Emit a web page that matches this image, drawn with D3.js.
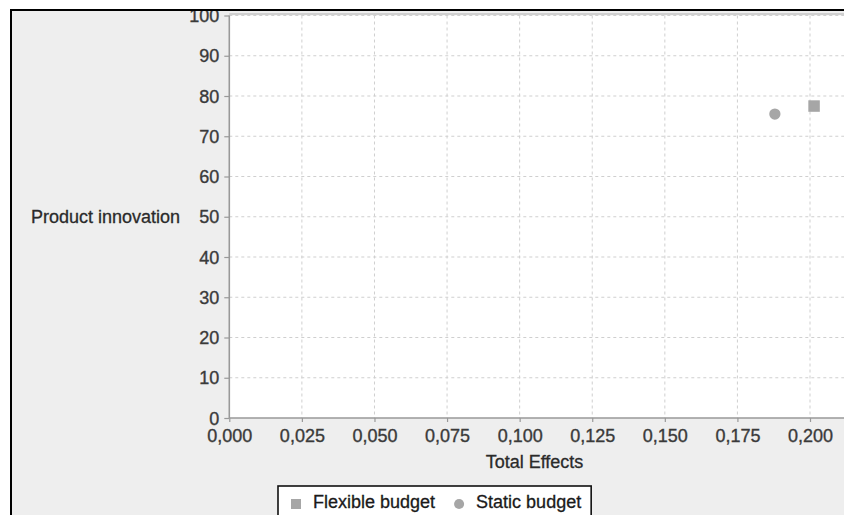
<!DOCTYPE html>
<html>
<head>
<meta charset="utf-8">
<script src="https://cdn.jsdelivr.net/npm/d3@7"></script>
<style>
  body { margin: 0; background: #fff; }
  text { font-family: "Liberation Sans", Arial, sans-serif; }
</style>
</head>
<body>
<script>
var seriesNames = ["Flexible budget", "Static budget"];
var seriesShapes = ["square", "circle"];
var xValues = [0.2014, 0.1879];
var yValues = [77.5, 75.5];
var xTicks = [0, 0.025, 0.05, 0.075, 0.1, 0.125, 0.15, 0.175, 0.2];
var yTicks = [0, 10, 20, 30, 40, 50, 60, 70, 80, 90, 100];
var xLabel = "Total Effects";
var yLabel = "Product innovation";

var W = 844, H = 515;
var plotLeft = 229.3, plotTop = 15.5, plotBottom = 418;
var plotW = 617, plotH = plotBottom - plotTop;

var svg = d3.select("body").append("svg")
    .attr("width", W)
    .attr("height", H);

// background panel
svg.append("rect").attr("x", 11).attr("y", 10).attr("width", W).attr("height", H)
    .attr("fill", "#eeeeee");

var xScale = d3.scaleLinear().domain([0, 0.2125]).range([0, plotW]);
var yScale = d3.scaleLinear().domain([0, 100]).range([plotH, 0]);

var loc = d3.formatLocale({decimal: ",", thousands: ".", grouping: [3], currency: ["", ""]});
var fmt = loc.format(".3f");

var g = svg.append("g").attr("transform", "translate(" + plotLeft + "," + plotTop + ")");

g.append("rect").attr("width", plotW).attr("height", plotH).attr("fill", "#fff");

// grid
g.selectAll(".gx").data(xTicks.slice(1)).enter().append("line")
    .attr("x1", function(d) { return xScale(d); })
    .attr("x2", function(d) { return xScale(d); })
    .attr("y1", 0).attr("y2", plotH)
    .attr("stroke", "#cfcfcf").attr("stroke-width", 1).attr("stroke-dasharray", "3,3");
g.selectAll(".gy").data(yTicks.slice(1)).enter().append("line")
    .attr("x1", 0).attr("x2", plotW)
    .attr("y1", function(d) { return yScale(d); })
    .attr("y2", function(d) { return yScale(d); })
    .attr("stroke", "#cfcfcf").attr("stroke-width", 1).attr("stroke-dasharray", "3,3");
// plot outline top
g.append("line").attr("x1", 0).attr("x2", plotW).attr("y1", -1.5).attr("y2", -1.5)
    .attr("stroke", "#b0b0b0").attr("stroke-width", 1);

// axes
var xAxis = d3.axisBottom(xScale).tickValues(xTicks).tickFormat(fmt).tickSize(4).tickPadding(7);
var yAxis = d3.axisLeft(yScale).tickValues(yTicks).tickFormat(d3.format("d")).tickSize(5).tickPadding(5);

var gx = g.append("g").attr("transform", "translate(0," + plotH + ")").call(xAxis);
var gy = g.append("g").call(yAxis);

[gx, gy].forEach(function(a) {
    a.select(".domain").attr("stroke", "#999").attr("stroke-width", 1.6);
    a.selectAll(".tick line").attr("stroke", "#999").attr("stroke-width", 1.2);
    a.selectAll(".tick text").attr("fill", "#3a3a3a").attr("font-size", "18px")
        .attr("stroke", "#3a3a3a").attr("stroke-width", 0.35)
        .attr("font-family", "'Liberation Sans', Arial, sans-serif");
});
gx.select(".domain").attr("d", "M0,0H" + plotW);
gy.select(".domain").attr("d", "M0,0V" + plotH);
gy.selectAll(".tick text").attr("dy", "0.34em");

// axis labels
g.append("text").attr("x", 534.5 - plotLeft).attr("y", 468 - plotTop)
    .attr("text-anchor", "middle").attr("font-size", "18px").attr("fill", "#2a2a2a")
    .attr("stroke", "#2a2a2a").attr("stroke-width", 0.3)
    .text(xLabel);
g.append("text").attr("x", 180 - plotLeft).attr("y", yScale(50)).attr("dy", "0.36em")
    .attr("text-anchor", "end").attr("font-size", "18px").attr("fill", "#2a2a2a")
    .attr("stroke", "#2a2a2a").attr("stroke-width", 0.3)
    .text(yLabel);

// points
var pts = seriesNames.map(function(n, i) {
    return {name: n, shape: seriesShapes[i], x: xValues[i], y: yValues[i]};
});
var sym = {
    square: d3.symbol().type(d3.symbolSquare).size(132),
    circle: d3.symbol().type(d3.symbolCircle).size(100)
};
g.selectAll(".pt").data(pts).enter().append("path")
    .attr("d", function(d) { return sym[d.shape](); })
    .attr("transform", function(d) { return "translate(" + xScale(d.x) + "," + yScale(d.y) + ")"; })
    .attr("fill", "#a6a6a6");

// legend
var lg = svg.append("g").attr("transform", "translate(278,486)");
var lbox = lg.append("rect").attr("x", 0).attr("y", 0).attr("height", 40)
    .attr("fill", "#fff").attr("stroke", "#111").attr("stroke-width", 1.6);
var lsym = {
    square: d3.symbol().type(d3.symbolSquare).size(100),
    circle: d3.symbol().type(d3.symbolCircle).size(80)
};
var cx = 18;
pts.forEach(function(d) {
    lg.append("path").attr("d", lsym[d.shape]())
        .attr("transform", "translate(" + cx + ",18)").attr("fill", "#a6a6a6");
    var t = lg.append("text").attr("x", cx + 17).attr("y", 22)
        .attr("font-size", "18px").attr("fill", "#1a1a1a")
        .attr("stroke", "#1a1a1a").attr("stroke-width", 0.3).text(d.name);
    cx = cx + 17 + t.node().getComputedTextLength() + 24;
});
lbox.attr("width", cx - 14);

// outer frame (drawn last, overlaps the top label like the original)
svg.append("rect").attr("x", 0).attr("y", 0).attr("width", W).attr("height", 9).attr("fill", "#fff");
svg.append("rect").attr("x", 0).attr("y", 0).attr("width", 10).attr("height", H).attr("fill", "#fff");
svg.append("line").attr("x1", 10).attr("x2", W).attr("y1", 10).attr("y2", 10)
    .attr("stroke", "#000").attr("stroke-width", 2);
svg.append("line").attr("x1", 11).attr("x2", 11).attr("y1", 9).attr("y2", H)
    .attr("stroke", "#000").attr("stroke-width", 2);
</script>
</body>
</html>
